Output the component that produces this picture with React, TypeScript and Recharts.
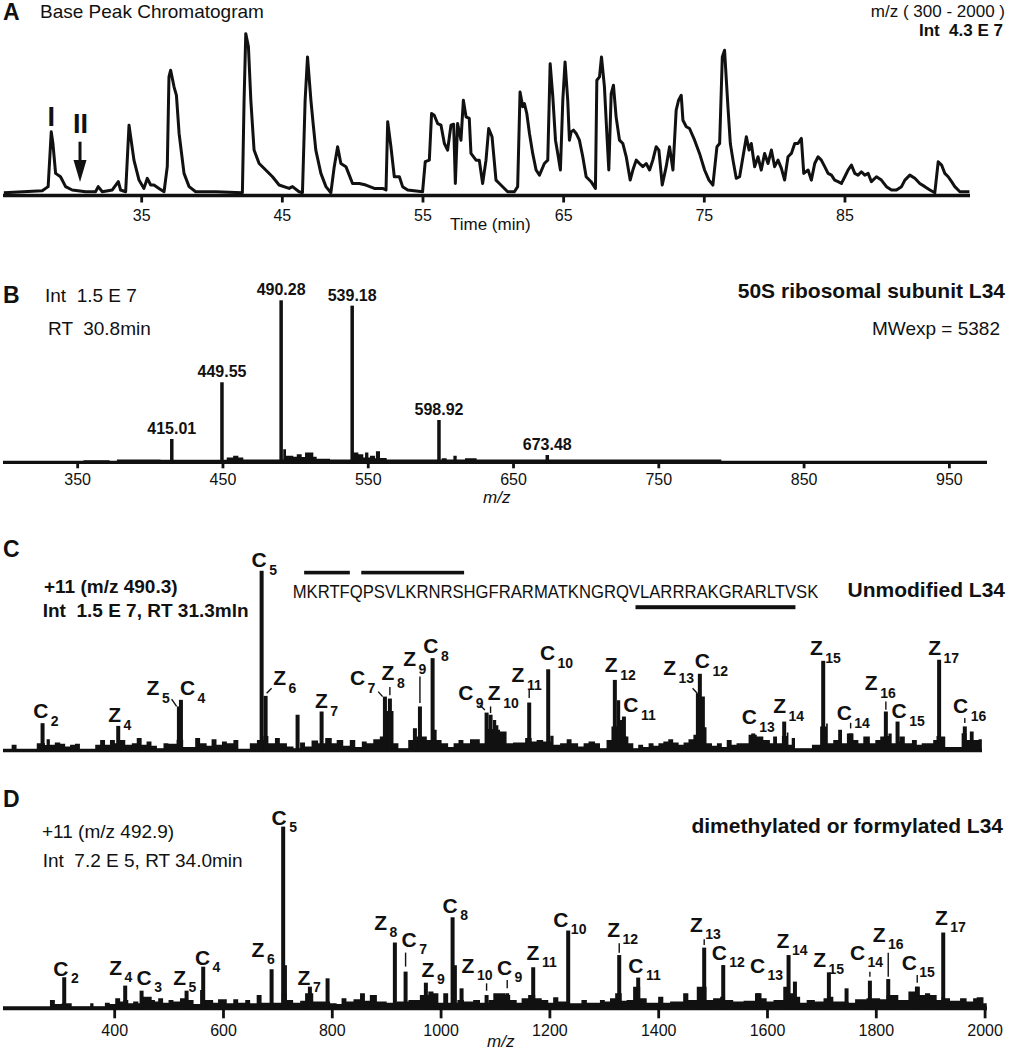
import React from 'react'
import { LineChart, Line, AreaChart, Area, BarChart, Bar, XAxis, YAxis, LabelList, ReferenceDot } from 'recharts'

const FONT = '"Liberation Sans", Arial, Helvetica, sans-serif'
const INK = '#111'
const W = 1009

// A: base peak chromatogram, [time (min), intensity % of 4.3 E 7]
const bpc: [number, number][] = [
  [25.2, 0], [27.93, 1.2], [28.35, 3.8], [28.57, 38.1], [28.69, 30.8], [28.88, 12.1], [29.23, 10], [29.59, 3.8],
  [30.06, 1.7], [31.01, 0.6], [31.72, 0.6], [31.91, 3.8], [32.2, 0.6], [32.91, 1.7], [33.34, 6.9], [33.5, 1.7],
  [33.86, 0.6], [34.1, 42.3], [34.45, 20.4], [34.81, 7.9], [35.16, 2.7], [35.4, 9], [35.64, 4.8], [35.87, 4.8],
  [36.23, 2.7], [36.59, 0.6], [36.82, 16.3], [36.94, 72.5], [37.06, 76.7], [37.3, 66.3], [37.47, 61], [37.66, 37.1],
  [38.01, 12.1], [38.37, 3.8], [38.84, 0.6], [40.27, 0.6], [42.16, 0], [42.28, 57.9], [42.4, 99.6], [42.59, 91.3],
  [42.76, 57.9], [42.99, 26.7], [43.35, 18.3], [43.82, 14.2], [44.3, 10], [44.77, 4.8], [45.48, 2.7], [45.72, 3.8],
  [46.19, 0.6], [46.43, 0], [46.62, 57.9], [46.79, 85], [47.03, 57.9], [47.19, 43.3], [47.38, 26.7], [47.74, 12.1],
  [48.1, 3.8], [48.45, 0], [48.69, 16.3], [48.93, 28.8], [49.16, 18.3], [49.52, 16.3], [49.71, 12.1], [49.99, 5.8],
  [50.47, 5.8], [50.94, 4.8], [51.54, 2.7], [52.13, 2.7], [52.37, 1.7], [52.49, 44.4], [52.72, 28.8], [52.96, 10],
  [53.32, 10], [53.55, 3.8], [53.91, 1.7], [54.97, 0.6], [55.16, 19.4], [55.45, 20.4], [55.61, 49.6], [55.8, 48.5],
  [56.04, 43.3], [56.28, 42.3], [56.52, 30.8], [56.75, 26.7], [56.99, 42.3], [57.18, 42.9], [57.3, 5.8], [57.46, 43.3],
  [57.7, 32.9], [57.87, 57.9], [58.06, 47.5], [58.29, 46.5], [58.41, 24.6], [58.77, 20.4], [59.0, 20.4], [59.24, 5.8],
  [59.48, 20.4], [59.67, 40.2], [59.91, 35], [60.19, 7.9], [60.43, 5.8], [61.02, 0.6], [61.5, 0.6], [61.73, 3.8],
  [61.9, 63.1], [62.09, 53.8], [62.21, 55.8], [62.38, 49.6], [62.57, 37.1], [62.8, 24.6], [63.04, 14.2], [63.28, 11],
  [63.63, 18.3], [63.87, 20.4], [64.04, 80.8], [64.23, 60], [64.42, 32.9], [64.58, 24.6], [64.77, 14.2], [64.94, 57.9],
  [65.1, 81.9], [65.29, 57.9], [65.41, 32.9], [65.53, 38.1], [65.7, 39.2], [65.89, 37.1], [66.12, 32.9], [66.36, 22.5],
  [66.6, 10], [66.95, 6.9], [67.26, 2.7], [67.36, 70.4], [67.55, 72.5], [67.69, 85], [67.9, 66.3], [68.07, 37.1],
  [68.21, 14.2], [68.38, 62.1], [68.54, 67.3], [68.73, 47.5], [68.97, 32.9], [69.21, 30.8], [69.45, 22.5], [69.73, 7.9],
  [69.92, 14.2], [70.16, 20.4], [70.39, 18.3], [70.63, 16.3], [70.87, 18.3], [71.11, 14.2], [71.34, 20.4], [71.58, 28.8],
  [71.77, 26.7], [72.01, 4.8], [72.29, 16.3], [72.53, 28.8], [72.65, 21.5], [72.77, 14.2], [73.0, 51.7], [73.17, 57.9],
  [73.36, 61], [73.48, 45.4], [73.72, 41.3], [73.95, 40.2], [74.31, 32.9], [74.66, 24.6], [75.02, 14.2], [75.33, 7.9],
  [75.61, 4.8], [75.9, 28.8], [76.09, 30.8], [76.28, 85], [76.44, 89.2], [76.68, 53.8], [76.85, 30.8], [77.04, 20.4],
  [77.27, 9], [77.51, 10], [77.75, 22.5], [77.99, 35], [78.18, 26.7], [78.34, 30.8], [78.58, 16.3], [78.82, 22.5],
  [79.05, 14.2], [79.29, 24.6], [79.53, 18.3], [79.77, 26.7], [80.0, 16.3], [80.24, 20.4], [80.48, 15.2], [80.71, 7.9],
  [80.95, 22.5], [81.19, 24.6], [81.43, 30.8], [81.66, 30.8], [81.9, 34], [82.07, 12.1], [82.38, 14.2], [82.61, 7.9],
  [82.85, 18.3], [83.09, 22.5], [83.32, 20.4], [83.56, 16.3], [83.8, 12.1], [84.04, 11], [84.27, 7.9], [84.51, 6.9],
  [84.75, 5.8], [84.99, 10], [85.22, 14.2], [85.46, 17.3], [85.7, 12.1], [85.93, 11], [86.17, 13.1], [86.41, 11],
  [86.65, 12.1], [86.88, 6.9], [87.24, 10], [87.59, 7.9], [87.95, 3.8], [88.31, 1.7], [88.66, 1.7], [89.02, 3.8],
  [89.26, 7.9], [89.61, 11], [89.97, 9], [90.32, 5.8], [90.68, 3.8], [91.04, 1.7], [91.39, 0], [91.63, 19.4],
  [91.87, 17.3], [92.1, 12.1], [92.34, 10], [92.58, 6.9], [92.81, 3.8], [93.17, 0.6], [93.85, 0.6],
]
const timeTicks = [35, 45, 55, 65, 75, 85]
const bpcMarks = [
  { name: 'I', t: 28.57, v: 38.1 },
  { name: 'II', t: 30.8, v: 0 },
]

// B: full MS at RT 30.8 min, [m/z, % of 1.5 E 7]
const fullMsPeaks: [number, number][] = [
  [415.01, 14.4], [449.55, 49.4], [490.28, 100], [539.18, 96.7], [598.92, 26.1], [673.48, 4.5],
]
const fullMsNoise: [number, number][] = [
  [299, 0], [354, 1.2], [372, 0.8], [377, 1.8], [407, 1.6], [452.6, 3], [457, 4], [460.6, 3], [464, 1.8],
  [491.5, 8], [493.4, 4], [498.4, 3.5], [500.8, 5], [504.2, 3.2], [506.5, 6], [512.2, 3.5], [514.5, 2.2],
  [523.7, 1.8], [539.7, 6], [543.2, 5], [546.6, 3], [547.8, 6], [550.1, 3], [551.2, 4], [554.7, 2.5],
  [555.3, 6.8], [558.1, 2.7], [562.7, 1.8], [600.6, 2.5], [604, 1.8], [608.6, 4], [610.9, 1.8], [616.6, 2.5],
  [624.6, 1.8], [793, 0],
]
const fullMsTicks = [350, 450, 550, 650, 750, 850, 950]

// C: ETD spectrum of unmodified L34 (+11, m/z 490.3), [m/z, % , ion]
const unmodPeaks: [number, number, string?][] = [
  [281.8, 15.2, 'C2'], [420.3, 13.7, 'Z4'], [531.4, 24.5, 'Z5'], [535.1, 28.2, 'C4'], [682.8, 100, 'C5'],
  [690.1, 30.4, 'Z6'], [748.6, 19.9], [792.6, 21.7, 'Z7'], [908.5, 30, 'C7'], [917.6, 28.9, 'Z8'],
  [963.4, 12.4], [972.6, 24.5, 'Z9'], [995.8, 51.4, 'C8'], [1094.6, 21.1, 'C9'], [1101.9, 19.9, 'Z10'],
  [1172.6, 26.7, 'Z11'], [1207.4, 45.2, 'C10'], [1329.4, 39.3, 'Z12'], [1346, 18.9, 'C11'], [1481.4, 31.9, 'Z13'],
  [1485, 42.7, 'C12'], [1582.7, 9.5, 'C13'], [1639.4, 16.1, 'Z14'], [1710.8, 49.9, 'Z15'], [1761, 9.5, 'C14'],
  [1825.5, 21.7, 'Z16'], [1846.9, 16.1, 'C15'], [1923, 50.5, 'Z17'], [1970, 13.4, 'C16'],
]
const unmodNoise: [number, number][] = [
  [209.5, 0.7], [225, 3.2], [234, 0.7], [271, 4.1], [277, 4], [286, 3], [289, 6.3], [295, 3.2], [304, 4.5],
  [314, 3.7], [323, 2.2], [332, 3.2], [341, 3.7], [350, 0.7], [378, 3.2], [387, 5.9], [396, 3.2], [405, 5.9],
  [414, 4], [423, 5.9], [433, 3.2], [445, 4.1], [454, 6.9], [463, 3.2], [472, 5], [481, 2.6], [491, 1.3],
  [503, 4.1], [512, 3.7], [527, 6], [539, 1.9], [561, 6.9], [570, 4.1], [582, 2.6], [591, 6.3], [600, 3.2],
  [610, 5], [619, 4.1], [631, 5.9], [640, 0.7], [661, 4.1], [674, 5.9], [686, 8], [695, 4.1], [707, 6.9],
  [716, 4.1], [729, 2.2], [741, 1.3], [753, 4.5], [762, 2.2], [774, 5.6], [786, 4], [799, 6.9], [811, 4.1],
  [820, 5.9], [832, 2.6], [844, 5.9], [854, 1.9], [866, 5], [875, 4.1], [887, 6.3], [899, 7.8], [905, 22],
  [924, 4.1], [933, 1.3], [951, 5.9], [966, 7.8], [985, 5.9], [997, 11.5], [1003, 5.9], [1012, 4.1], [1024, 1.9],
  [1034, 4.1], [1043, 5.9], [1052, 4.1], [1064, 6.3], [1082, 4.1], [1092, 12], [1106, 17], [1112, 14],
  [1116, 11.5], [1119, 10.6], [1131, 4.1], [1143, 4.5], [1165, 6.9], [1177, 5], [1186, 5.9], [1198, 5],
  [1211, 8.2], [1217, 3.2], [1229, 4.1], [1241, 6.3], [1250, 4.1], [1262, 2.2], [1272, 4.1], [1281, 5],
  [1293, 4.1], [1302, 1.3], [1314, 5.9], [1323, 13.4], [1333, 28], [1339, 17], [1344, 8], [1350, 7.8],
  [1354, 4.1], [1363, 1.3], [1372, 3.2], [1381, 1.9], [1391, 4.1], [1400, 2.6], [1409, 4.1], [1418, 5],
  [1427, 6.3], [1436, 4.5], [1446, 3.2], [1455, 4.5], [1464, 6.3], [1473, 8.7], [1478, 30], [1494, 13],
  [1497, 4.1], [1507, 2.6], [1516, 4.1], [1525, 1.9], [1534, 5.9], [1543, 3.2], [1552, 4.1], [1574, 8.7],
  [1589, 7.8], [1601, 5.9], [1613, 4.1], [1619, 7.8], [1626, 4.1], [1635, 8], [1644, 10], [1647, 3.2],
  [1653, 6.9], [1659, 1.3], [1690, 3.2], [1705, 13.4], [1716, 15], [1719, 4.1], [1729, 5.9], [1738, 11.5],
  [1745, 4.1], [1754, 9.5], [1766, 5.9], [1775, 4.1], [1784, 7.8], [1796, 4.1], [1806, 5.9], [1815, 7.8],
  [1824, 8], [1830, 9.5], [1836, 4.1], [1845, 5], [1850, 7.8], [1860, 4.1], [1873, 5.9], [1882, 3.2],
  [1891, 4.1], [1912, 5.9], [1918, 8], [1926, 7.8], [1934, 1.9], [1964, 9.6], [1973, 5.9], [1979, 10.6],
  [1986, 5.9], [1995, 6.3], [2001, 0],
]

// D: ETD spectrum of dimethylated / formylated L34 (+11, m/z 492.9)
const modPeaks: [number, number, string?][] = [
  [307.4, 17.1, 'C2'], [419.5, 12.5, 'Z4'], [449.6, 9.7, 'C3'], [532.3, 9.7, 'Z5'], [562.9, 22.9, 'C4'],
  [688.6, 21.5, 'Z6'], [709.9, 100, 'C5'], [713.1, 23.7], [759, 11.9, 'Z7'], [791.5, 16.5], [915.2, 36.2, 'Z8'],
  [934.9, 20.2, 'C7'], [972.2, 14.1, 'Z9'], [1021.3, 50.1, 'C8'], [1025.5, 23.7], [1037.8, 11],
  [1083.8, 7.3, 'Z10'], [1121.7, 8.3, 'C9'], [1169.5, 22.6, 'Z11'], [1233.8, 42.8, 'C10'], [1327.6, 29.3, 'Z12'],
  [1362.5, 16.9, 'C11'], [1483.8, 33.4, 'Z13'], [1518.8, 23.8, 'C12'], [1583.1, 8.3, 'C13'], [1638.9, 29.3, 'Z14'],
  [1650.6, 14.7], [1713, 19.8, 'Z15'], [1745.5, 11], [1788.4, 15.2, 'C14'], [1822.1, 16.1, 'Z16'],
  [1875.4, 11.9, 'C15'], [1923.2, 41.7, 'Z17'],
]
const modNoise: [number, number][] = [
  [195, 0], [281, 4.6], [290, 2.4], [302.5, 2.8], [321, 0.9], [355, 2.8], [361, 0.9], [382, 3.1], [391, 2.4],
  [401, 5.5], [410, 3.7], [416, 4.6], [425, 2.8], [434, 3.7], [443.5, 2.8], [449.6, 6.4], [468, 4.6], [474, 3.7],
  [480, 5.5], [489, 3.1], [499, 4.6], [508, 3.7], [520, 5.5], [535, 4.6], [545, 2.4], [557, 10.1], [566, 4.6],
  [581, 3.1], [590, 5], [606, 2.8], [618, 5], [627, 3.1], [640, 4.6], [649, 2.8], [661, 7.3], [670, 3.1],
  [707, 8.3], [716, 4.6], [728, 3.1], [741, 4.2], [750, 8.3], [765, 3.7], [796, 2.8], [808, 2.4], [817, 5.5],
  [826, 3.7], [839, 5], [851, 8.3], [860, 4.2], [869, 7.3], [882, 3.7], [900, 3.1], [918, 3.7], [940, 4.6],
  [961, 7.3], [976.5, 9.2], [986, 8.3], [995, 3.1], [1004, 8.3], [1013, 3.1], [1030, 4.6], [1042, 3.7],
  [1059, 4.6], [1071.5, 3.1], [1087, 4.6], [1096, 8.3], [1117.5, 7.3], [1127, 4.6], [1139, 3.1], [1148, 5.5],
  [1160, 7.3], [1173, 5.5], [1185, 4.6], [1197, 3.1], [1206, 6.1], [1215.5, 3.7], [1237, 2.8], [1258, 4.6],
  [1268, 3.1], [1292, 4.6], [1301, 3.7], [1310.5, 5.5], [1320, 8.3], [1332, 4.2], [1341, 4.6], [1353, 11.9],
  [1366, 5.5], [1378, 3.1], [1399, 6.4], [1408.5, 3.1], [1421, 3.7], [1445, 8.3], [1454.5, 4.6], [1470, 11.9],
  [1488, 4.6], [1500, 5.5], [1513, 6.4], [1522, 4.6], [1537, 3.7], [1556, 4.2], [1577, 8.3], [1589, 5.5],
  [1598.5, 3.7], [1611, 4.6], [1629, 11.9], [1641, 8.3], [1650.5, 6.4], [1660, 3.1], [1672, 4.6], [1687, 3.7],
  [1703, 5.5], [1715, 6.4], [1721, 3.7], [1749, 3.1], [1761, 5], [1782, 5.5], [1807, 5], [1819, 7.3],
  [1840.5, 4.6], [1859, 9.2], [1871, 11.9], [1880, 7.3], [1889.5, 8.3], [1899, 7.3], [1911, 4.6], [1920, 6.4],
  [1926, 5.5], [1935.5, 4.2], [1954, 5.5], [1966, 3.7], [1978, 5.5], [1984.5, 6.1], [1997, 2.8], [2003, 0],
]
const fragTicks = [400, 600, 800, 1000, 1200, 1400, 1600, 1800, 2000]

const sequence = 'MKRTFQPSVLKRNRSHGFRARMATKNGRQVLARRRAKGRARLTVSK'
const seqOver = [[1, 5], [6, 15]]
const seqUnder = [[30, 44]]

// label placement relative to the top of each labelled stick: [dx, dy, leader?]
type LabelPos = [number, number, number[]?]
const unmodLabelPos: Record<string, LabelPos> = {
  C2: [-9.4, -5], Z4: [-10, -4.3], Z5: [-32.3, -11.7, [-7.3, -7.4, -2.3, 0]], C4: [-1, -5], C5: [-10, -4.3],
  Z6: [7.6, -11, [1, -2.7, 6, -7.7]], Z7: [-6.7, -3.4], C7: [-35, -11.7, [-6.7, -5, -2.3, 0]],
  Z8: [-8.3, -18.3, [0, -11.6, 0, -3.3]], Z9: [-16.7, -40, [0, -30, 0, -3.4]], C8: [-9.4, -5],
  C9: [-28.4, -12.7, [-6.7, -7.7, -1.7, -2.7]], Z10: [-2.7, -15, [0, -8.3, 0, -1.7]],
  Z11: [-17.6, -21, [0, -12.7, 0, -4.4]], C10: [-8.3, -9.3], Z12: [-10, -8.3], C11: [-0.7, -5],
  Z13: [-34.7, -18.3, [-5.3, -5, -0.7, 0]], C12: [-5, -5.7], C13: [-11.6, -9], Z14: [-11, -8.4], Z15: [-13.3, -6],
  C14: [-14, -13.3, [0, -10.6, 0, -5]], Z16: [-21, -21.7, [0, -10, 0, -1.7]], C15: [-6, -3.4], Z17: [-11, -5],
  C16: [-11.7, -13.4, [0, -8.4, 0, -3.4]],
}
const modLabelPos: Record<string, LabelPos> = {
  C2: [-11, -1], Z4: [-16, -10.7], C3: [-5, -5.7], Z5: [-13.4, -5.7], C4: [-8.3, -1.7], Z6: [-20, -12.6],
  C5: [-11.6, -1.7], Z7: [-12.3, -1.7], Z8: [-20.7, -12.7], C7: [-4, -25, [0, -19, 0, -5]], Z9: [-4.3, -6],
  C8: [-10, -4], Z10: [-25, -21.7, [0, -11.7, 0, -4.3]], C9: [-10.3, -18.3, [0, -13.3, 0, -5]], Z11: [-6.6, -7.3],
  C10: [-15, -4], Z12: [-12, -18.3, [0, -11.7, 0, -2.3]], C11: [-10, -4.4], Z13: [-14.3, -16, [0, -8.4, 0, -2.7]],
  C12: [-11.6, -5], C13: [-8.3, -20], Z14: [-12, -6.7], Z15: [-15.7, -5.6], C14: [-20, -20.7, [0, -9, 0, -4]],
  Z16: [-15.6, -37.3, [0, -26.3, 0, -2.3]], C15: [-15.6, -16.7, [0, -11.7, 0, -4]], Z17: [-8.3, -7.7],
}

const rows = (arr: any[]) => arr.map(([mz, v, ion]) => ({ mz, v, ion }))

function IonLabel({ cx, top, ion, pos, subDy }: any) {
  const [dx, dy, lead] = pos
  return (
    <g>
      {lead && (
        <line x1={cx + lead[0]} y1={top + lead[1]} x2={cx + lead[2]} y2={top + lead[3]} stroke={INK} strokeWidth={1.4} />
      )}
      <text x={cx + dx} y={top + dy} fontFamily={FONT} fontWeight="bold" fontSize={21} fill={INK}>
        {ion[0]}
        <tspan dx={2.5} dy={subDy} fontSize={14}>{ion.slice(1)}</tspan>
      </text>
    </g>
  )
}

const makeStick = (w: number, labelPos?: Record<string, LabelPos>, subDy = 8) => (p: any) => {
  const cx = p.x + p.width / 2
  const ion = p.payload && p.payload.ion
  return (
    <g>
      <rect x={cx - w / 2} y={p.y} width={w} height={Math.max(0, p.height)} fill={INK} />
      {labelPos && ion && labelPos[ion] && <IonLabel cx={cx} top={p.y} ion={ion} pos={labelPos[ion]} subDy={subDy} />}
    </g>
  )
}

function Spectrum(props: any) {
  const { top, height, left, right, plotTop, plotBottom, domain, noise, peaks, ticks, axisH, tickSize, tickMargin,
    axisWidth, stick, labelPos, subDy, mzLabels } = props
  const margin = { top: plotTop - top, left, right: W - right, bottom: top + height - plotBottom - axisH }
  return (
    <div style={{ position: 'absolute', left: 0, top, width: W, height }}>
      <div style={{ position: 'absolute', left: 0, top: 0 }}>
        <AreaChart width={W} height={height} data={rows(noise)} margin={margin}>
          <XAxis
            type="number"
            dataKey="mz"
            domain={domain}
            ticks={ticks}
            interval={0}
            height={axisH}
            tick={ticks ? { fill: INK, fontSize: 16, fontFamily: FONT } : false}
            tickLine={ticks ? { stroke: INK, strokeWidth: 2.8 } : false}
            tickSize={tickSize}
            tickMargin={tickMargin}
            axisLine={{ stroke: INK, strokeWidth: axisWidth }}
          />
          <YAxis hide domain={[0, 100]} />
          <Area type="stepAfter" dataKey="v" stroke="none" fill={INK} fillOpacity={1} isAnimationActive={false} />
        </AreaChart>
      </div>
      <div style={{ position: 'absolute', left: 0, top: 0 }}>
        <BarChart width={W} height={height} data={rows(peaks)} margin={margin}>
          <XAxis type="number" dataKey="mz" domain={domain} height={axisH} tick={false} tickLine={false} axisLine={false} />
          <YAxis hide domain={[0, 100]} />
          <Bar dataKey="v" barSize={stick} shape={makeStick(stick, labelPos, subDy)} isAnimationActive={false}>
            {mzLabels && (
              <LabelList
                dataKey="mz"
                position="top"
                offset={5}
                formatter={(v: any) => Number(v).toFixed(2)}
                fill={INK}
                fontSize={16}
                fontWeight="bold"
                fontFamily={FONT}
              />
            )}
          </Bar>
        </BarChart>
      </div>
    </div>
  )
}

function BpcMark({ cx, cy, name }: any) {
  if (name === 'I') {
    return (
      <text x={cx} y={cy - 5.7} textAnchor="middle" fontSize={27} fontWeight="bold" fontFamily={FONT} fill={INK}>I</text>
    )
  }
  return (
    <g>
      <text x={cx - 2} y={cy - 60} textAnchor="middle" fontSize={27} fontWeight="bold" fontFamily={FONT} fill={INK}>II</text>
      <line x1={cx - 2.6} y1={cy - 51} x2={cx - 2.6} y2={cy - 30} stroke={INK} strokeWidth={3} />
      <polygon points={`${cx - 9.1},${cy - 32.7} ${cx + 3.9},${cy - 32.7} ${cx - 2.6},${cy - 10.7}`} fill={INK} />
    </g>
  )
}

function T({ x, y, size = 19, bold, italic, end, children }: any) {
  return (
    <text
      x={x}
      y={y}
      fontSize={size}
      fontWeight={bold ? 'bold' : 'normal'}
      fontStyle={italic ? 'italic' : 'normal'}
      textAnchor={end ? 'end' : 'start'}
      fontFamily={FONT}
      fill={INK}
      xmlSpace="preserve"
      style={{ whiteSpace: 'pre' }}
    >
      {children}
    </text>
  )
}

export default function App() {
  const seqX = 292.7
  const seqW = 525.6
  const cw = seqW / sequence.length
  return (
    <div style={{ position: 'relative', width: W, height: 1050, background: '#fff', fontFamily: FONT }}>
      <style>{'body{margin:0}'}</style>

      <div style={{ position: 'absolute', left: 0, top: 0 }}>
        <LineChart width={W} height={240} data={bpc.map(([t, v]) => ({ t, v }))} margin={{ top: 33, left: 3, right: 39, bottom: 14.5 }}>
          <XAxis
            type="number"
            dataKey="t"
            domain={[25.14, 93.89]}
            ticks={timeTicks}
            interval={0}
            height={30}
            tick={{ fill: INK, fontSize: 16, fontFamily: FONT }}
            tickLine={{ stroke: INK, strokeWidth: 2.8 }}
            tickSize={7}
            tickMargin={7.5}
            axisLine={{ stroke: INK, strokeWidth: 3.3 }}
          />
          <YAxis hide domain={[-1.75, 100]} />
          <Line type="linear" dataKey="v" stroke={INK} strokeWidth={3} strokeLinejoin="round" dot={false} isAnimationActive={false} />
          {bpcMarks.map((m) => (
            <ReferenceDot key={m.name} x={m.t} y={m.v} r={0} shape={(p: any) => <BpcMark cx={p.cx} cy={p.cy} name={m.name} />} />
          ))}
        </LineChart>
      </div>

      <Spectrum
        top={240} height={265} left={3} right={987} plotTop={300.3} plotBottom={462.3}
        domain={[298.6, 975.9]} noise={fullMsNoise} peaks={fullMsPeaks} ticks={fullMsTicks}
        axisH={30} tickSize={6} tickMargin={5.7} axisWidth={3.3} stick={3.5} mzLabels
      />
      <Spectrum
        top={505} height={265} left={3} right={982} plotTop={570.8} plotBottom={750.5}
        domain={[209.2, 2001.3]} noise={unmodNoise} peaks={unmodPeaks}
        axisH={4} tickSize={0} tickMargin={0} axisWidth={3.5} stick={4} labelPos={unmodLabelPos} subDy={8}
      />
      <Spectrum
        top={770} height={280} left={3} right={987} plotTop={826.6} plotBottom={1008.3}
        domain={[194.7, 2003.5]} noise={modNoise} peaks={modPeaks} ticks={fragTicks}
        axisH={30} tickSize={10} tickMargin={6.7} axisWidth={4} stick={4} labelPos={modLabelPos} subDy={7}
      />

      <svg width={W} height={1050} style={{ position: 'absolute', left: 0, top: 0, pointerEvents: 'none' }}>
        <T x={3} y={20} size={23} bold>A</T>
        <T x={40} y={18}>Base Peak Chromatogram</T>
        <T x={1005} y={17} size={17} end>{'m/z ( 300 - 2000 )'}</T>
        <T x={1003} y={36} size={17} bold end>{'Int  4.3 E 7'}</T>
        <T x={450} y={230} size={17}>Time (min)</T>

        <T x={3} y={303.3} size={23} bold>B</T>
        <T x={45} y={301.7}>{'Int  1.5 E 7'}</T>
        <T x={48} y={335}>{'RT  30.8min'}</T>
        <T x={1005} y={298.3} size={21} bold end>50S ribosomal subunit L34</T>
        <T x={1000} y={335} end>MWexp = 5382</T>
        <T x={483} y={503} size={17} italic>m/z</T>

        <T x={3} y={556.7} size={23} bold>C</T>
        <T x={44} y={593.3} bold>+11 (m/z 490.3)</T>
        <T x={42.7} y={616.7} bold>{'Int  1.5 E 7, RT 31.3mln'}</T>
        <text x={seqX} y={598.3} fontSize={18} fontFamily={FONT} fill={INK} textLength={seqW} lengthAdjust="spacingAndGlyphs">
          {sequence}
        </text>
        {seqOver.map(([a, b]) => (
          <rect key={'o' + a} x={seqX + a * cw} y={570.8} width={(b - a) * cw} height={3.6} fill={INK} />
        ))}
        {seqUnder.map(([a, b]) => (
          <rect key={'u' + a} x={seqX + a * cw} y={605.2} width={(b - a) * cw} height={4} fill={INK} />
        ))}
        <T x={1005} y={597.3} size={21} bold end>Unmodified L34</T>

        <T x={3} y={806.7} size={23} bold>D</T>
        <T x={42} y={838.3}>+11 (m/z 492.9)</T>
        <T x={42.7} y={866.7}>{'Int  7.2 E 5, RT 34.0min'}</T>
        <T x={1003} y={833.3} size={21} bold end>dimethylated or formylated L34</T>
        <T x={487} y={1047} size={17} italic>m/z</T>
      </svg>
    </div>
  )
}
